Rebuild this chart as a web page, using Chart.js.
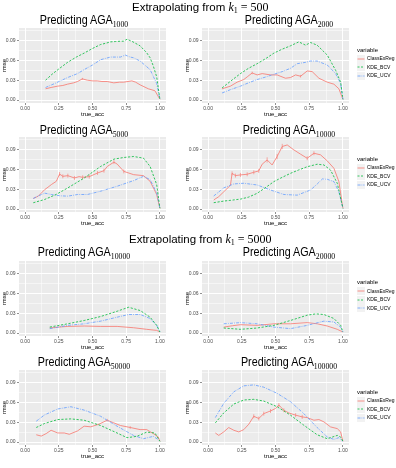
<!DOCTYPE html>
<html><head><meta charset="utf-8">
<script src="https://cdn.jsdelivr.net/npm/chart.js@4.4.0/dist/chart.umd.min.js"></script>
<style>
body{margin:0;width:396px;height:468px;background:#fff;position:relative;overflow:hidden;font-family:"Liberation Sans",Arial,sans-serif;}
canvas{position:absolute;}
.h{position:absolute;font-size:11.5px;white-space:nowrap;color:#000;line-height:1;}
.m{font-family:"Liberation Serif","DejaVu Serif",serif;font-size:12px;}
.m i{font-style:italic;}
.m sub{font-size:8px;vertical-align:-2px;}
.t{position:absolute;font-size:12.5px;white-space:nowrap;text-align:center;width:200px;line-height:1;color:#000;transform:scaleX(0.86);transform-origin:50% 50%;}
.t span.s{font-family:"Liberation Serif",serif;font-size:9px;position:relative;top:3px;}
.lg{position:absolute;left:357px;font-size:5px;color:#000;line-height:1;}
.lg .v{font-size:6px;position:absolute;left:0;white-space:nowrap;}
.lg .e{position:absolute;left:0;white-space:nowrap;height:8px;}
.lg svg{position:absolute;left:0;top:0;}
.lg .e span{position:absolute;left:10px;top:1.5px;}
</style>
</head><body>
<script>
// ---------- tick labels ----------
const yMajor = [0, 0.03, 0.06, 0.09];
const yMinor = [0.015, 0.045, 0.075, 0.105];
const yLabels = ['0.00', '0.03', '0.06', '0.09'];
const xMajor = [0, 0.25, 0.5, 0.75, 1];
const xMinor = [0.125, 0.375, 0.625, 0.875];
const xLabels = ['0.00', '0.25', '0.50', '0.75', '1.00'];
const seriesNames = ['ClassExReg', 'KDE_BCV', 'KDE_UCV'];
const panelTitles = ['1000', '2000', '5000', '10000', '10000', '20000', '50000', '100000'];
const headings = ['500', '5000'];

// ---------- Extrapolating from k1 = 500 ----------
const p1Red = [[0.152,0.017],[0.193,0.019],[0.242,0.021],[0.28,0.022],[0.315,0.024],[0.36,0.026],[0.389,0.028],[0.425,0.032],[0.462,0.030],[0.5,0.029],[0.535,0.029],[0.57,0.028],[0.609,0.028],[0.658,0.026],[0.70,0.027],[0.731,0.027],[0.792,0.029],[0.82,0.027],[0.853,0.023],[0.914,0.017],[0.963,0.014],[1.0,0.001]];
const p1Bcv = [[0.152,0.030],[0.2,0.039],[0.25,0.047],[0.315,0.057],[0.38,0.065],[0.438,0.071],[0.5,0.078],[0.56,0.084],[0.6,0.086],[0.633,0.088],[0.67,0.0885],[0.707,0.089],[0.73,0.089],[0.756,0.092],[0.8,0.088],[0.853,0.082],[0.9,0.072],[0.927,0.064],[0.95,0.052],[0.976,0.035],[1.0,0.001]];
const p1Ucv = [[0.152,0.019],[0.22,0.025],[0.315,0.034],[0.389,0.040],[0.438,0.046],[0.5,0.053],[0.56,0.061],[0.633,0.065],[0.707,0.065],[0.743,0.068],[0.78,0.065],[0.804,0.064],[0.853,0.059],[0.927,0.046],[0.976,0.025],[1.0,0.001]];
const p1Err = [[0.425,0.032,0.0015]];

const p2Red = [[0.104,0.017],[0.166,0.021],[0.215,0.027],[0.265,0.031],[0.290,0.035],[0.327,0.041],[0.364,0.038],[0.401,0.040],[0.463,0.038],[0.512,0.038],[0.574,0.033],[0.611,0.034],[0.649,0.038],[0.686,0.036],[0.735,0.044],[0.772,0.043],[0.822,0.033],[0.884,0.027],[0.933,0.024],[0.970,0.017],[1.0,0.001]];
const p2Bcv = [[0.104,0.0183],[0.17,0.029],[0.240,0.040],[0.3,0.048],[0.364,0.055],[0.43,0.063],[0.488,0.071],[0.55,0.077],[0.611,0.082],[0.673,0.088],[0.723,0.083],[0.760,0.087],[0.809,0.083],[0.884,0.068],[0.946,0.045],[0.983,0.027],[1.0,0.001]];
const p2Ucv = [[0.104,0.0107],[0.17,0.016],[0.240,0.021],[0.3,0.026],[0.364,0.031],[0.43,0.035],[0.488,0.039],[0.55,0.043],[0.611,0.048],[0.661,0.055],[0.723,0.057],[0.760,0.059],[0.809,0.059],[0.884,0.053],[0.946,0.040],[0.983,0.025],[1.0,0.001]];
const p2Err = [[0.327,0.041,0.002],[0.686,0.036,0.002]];

const p3Red = [[0.061,0.016],[0.098,0.0195],[0.12,0.024],[0.146,0.0295],[0.17,0.033],[0.195,0.037],[0.232,0.042],[0.256,0.053],[0.280,0.0495],[0.317,0.0505],[0.366,0.047],[0.40,0.049],[0.427,0.048],[0.476,0.049],[0.537,0.0545],[0.585,0.058],[0.610,0.0645],[0.659,0.071],[0.683,0.068],[0.732,0.057],[0.805,0.052],[0.878,0.0505],[0.927,0.042],[0.976,0.022],[1.0,0.001]];
const p3Bcv = [[0.061,0.0095],[0.146,0.0145],[0.23,0.022],[0.317,0.032],[0.439,0.047],[0.561,0.0645],[0.659,0.0755],[0.732,0.078],[0.805,0.0795],[0.878,0.077],[0.927,0.0645],[0.976,0.037],[1.0,0.001]];
const p3Ucv = [[0.061,0.016],[0.1,0.020],[0.146,0.024],[0.195,0.022],[0.26,0.020],[0.317,0.0195],[0.390,0.022],[0.463,0.022],[0.561,0.027],[0.683,0.0345],[0.805,0.043],[0.878,0.0495],[0.927,0.0445],[0.976,0.0245],[1.0,0.001]];
const p3Err = [[0.256,0.053,0.003],[0.280,0.0495,0.003],[0.317,0.0505,0.003],[0.366,0.047,0.003],[0.427,0.048,0.003],[0.476,0.049,0.003],[0.537,0.0545,0.003],[0.585,0.058,0.003],[0.659,0.071,0.003],[0.732,0.057,0.003]];

const p4Red = [[0.042,0.0137],[0.079,0.0187],[0.116,0.026],[0.166,0.036],[0.178,0.054],[0.203,0.0506],[0.240,0.0516],[0.290,0.0526],[0.339,0.0556],[0.376,0.0577],[0.401,0.0678],[0.438,0.0743],[0.475,0.0667],[0.512,0.0794],[0.550,0.0946],[0.587,0.097],[0.636,0.0895],[0.686,0.083],[0.735,0.0768],[0.785,0.0844],[0.834,0.082],[0.884,0.0728],[0.933,0.0617],[0.970,0.0415],[1.0,0.001]];
const p4Bcv = [[0.042,0.0096],[0.116,0.012],[0.240,0.015],[0.3,0.018],[0.364,0.0238],[0.43,0.033],[0.488,0.0415],[0.55,0.048],[0.611,0.054],[0.67,0.059],[0.735,0.064],[0.809,0.0678],[0.859,0.0667],[0.908,0.059],[0.958,0.039],[1.0,0.001]];
const p4Ucv = [[0.042,0.0197],[0.08,0.026],[0.116,0.032],[0.191,0.038],[0.265,0.039],[0.364,0.0364],[0.463,0.0288],[0.562,0.022],[0.661,0.021],[0.760,0.0288],[0.81,0.038],[0.847,0.0455],[0.884,0.045],[0.933,0.0415],[0.970,0.026],[1.0,0.001]];
const p4Err = [[0.178,0.054,0.003],[0.203,0.0506,0.003],[0.240,0.0516,0.003],[0.290,0.0526,0.003],[0.339,0.0556,0.003],[0.376,0.0577,0.003],[0.438,0.0743,0.004],[0.512,0.0794,0.004],[0.550,0.0946,0.004],[0.735,0.0768,0.003],[0.785,0.0844,0.003]];

// ---------- Extrapolating from k1 = 5000 ----------
const p5Red = [[0.183,0.0076],[0.25,0.009],[0.317,0.010],[0.439,0.0106],[0.561,0.010],[0.683,0.010],[0.805,0.008],[0.902,0.0056],[0.976,0.004],[1.0,0.0015]];
const p5Bcv = [[0.183,0.009],[0.317,0.014],[0.439,0.019],[0.561,0.025],[0.683,0.033],[0.768,0.039],[0.854,0.034],[0.927,0.024],[0.976,0.0116],[1.0,0.0015]];
const p5Ucv = [[0.183,0.0066],[0.317,0.0116],[0.439,0.014],[0.561,0.018],[0.683,0.024],[0.768,0.028],[0.854,0.028],[0.927,0.022],[0.976,0.0116],[1.0,0.0015]];
const p5Err = [];

const p6Red = [[0.116,0.009],[0.18,0.011],[0.240,0.0126],[0.364,0.0116],[0.488,0.014],[0.611,0.014],[0.735,0.0157],[0.809,0.014],[0.884,0.0106],[0.958,0.0056],[1.0,0.0015]];
const p6Bcv = [[0.116,0.0076],[0.240,0.0056],[0.364,0.0076],[0.488,0.0116],[0.611,0.019],[0.735,0.027],[0.80,0.029],[0.859,0.028],[0.933,0.022],[0.983,0.0116],[1.0,0.0015]];
const p6Ucv = [[0.116,0.014],[0.240,0.0157],[0.364,0.014],[0.488,0.009],[0.611,0.0066],[0.735,0.0116],[0.859,0.018],[0.933,0.0167],[0.983,0.009],[1.0,0.0015]];
const p6Err = [];

const p7Red = [[0.083,0.011],[0.120,0.009],[0.156,0.0127],[0.193,0.0178],[0.242,0.0137],[0.291,0.0137],[0.328,0.0117],[0.389,0.0168],[0.438,0.024],[0.487,0.023],[0.548,0.027],[0.609,0.033],[0.658,0.029],[0.707,0.025],[0.780,0.022],[0.853,0.0188],[0.902,0.0188],[0.951,0.0127],[0.988,0.0076],[1.0,0.001]];
const p7Bcv = [[0.083,0.022],[0.144,0.028],[0.242,0.034],[0.340,0.035],[0.438,0.033],[0.560,0.025],[0.682,0.0137],[0.756,0.0066],[0.829,0.0086],[0.902,0.015],[0.963,0.0137],[1.0,0.001]];
const p7Ucv = [[0.083,0.0315],[0.144,0.041],[0.242,0.050],[0.340,0.0534],[0.438,0.0483],[0.560,0.039],[0.682,0.024],[0.804,0.010],[0.878,0.005],[0.951,0.0086],[0.988,0.0036],[1.0,0.001]];
const p7Err = [[0.609,0.033,0.002],[0.780,0.022,0.002]];

const p8Red = [[0.054,0.0137],[0.079,0.010],[0.116,0.0153],[0.153,0.0219],[0.191,0.0178],[0.228,0.0153],[0.265,0.0188],[0.302,0.027],[0.339,0.039],[0.376,0.0356],[0.413,0.043],[0.463,0.047],[0.500,0.0508],[0.525,0.056],[0.562,0.048],[0.599,0.044],[0.649,0.0407],[0.698,0.038],[0.735,0.037],[0.785,0.033],[0.822,0.034],[0.859,0.0305],[0.908,0.0229],[0.958,0.0203],[0.983,0.0153],[1.0,0.001]];
const p8Bcv = [[0.054,0.029],[0.116,0.044],[0.191,0.0575],[0.265,0.0636],[0.339,0.0646],[0.413,0.062],[0.512,0.0534],[0.611,0.0407],[0.710,0.0254],[0.809,0.011],[0.884,0.005],[0.958,0.010],[0.983,0.0076],[1.0,0.001]];
const p8Ucv = [[0.054,0.037],[0.116,0.0585],[0.191,0.076],[0.265,0.085],[0.339,0.0865],[0.413,0.083],[0.512,0.0737],[0.611,0.061],[0.710,0.043],[0.809,0.0219],[0.884,0.0076],[0.933,0.004],[0.970,0.0066],[1.0,0.001]];
const p8Err = [[0.339,0.039,0.003],[0.376,0.0356,0.003],[0.413,0.043,0.003],[0.463,0.047,0.003],[0.525,0.056,0.003],[0.562,0.048,0.003],[0.649,0.0407,0.003],[0.698,0.038,0.003]];

// ---------- assembly ----------
const panels = [
  {red:p1Red,bcv:p1Bcv,ucv:p1Ucv,err:p1Err},
  {red:p2Red,bcv:p2Bcv,ucv:p2Ucv,err:p2Err},
  {red:p3Red,bcv:p3Bcv,ucv:p3Ucv,err:p3Err},
  {red:p4Red,bcv:p4Bcv,ucv:p4Ucv,err:p4Err},
  {red:p5Red,bcv:p5Bcv,ucv:p5Ucv,err:p5Err},
  {red:p6Red,bcv:p6Bcv,ucv:p6Ucv,err:p6Err},
  {red:p7Red,bcv:p7Bcv,ucv:p7Ucv,err:p7Err},
  {red:p8Red,bcv:p8Bcv,ucv:p8Ucv,err:p8Err}
];
const colLeft = [19, 202];
const rowTop = [28, 137, 260.5, 370];
const titleOff = [7.5, 6, 7.5, 7.5];
const PW = 147, PH = 75;
const RED = '#F8766D', GREEN = '#00BA38', BLUE = '#619CFF';

Chart.defaults.font.family = '"Liberation Sans", Arial, sans-serif';
Chart.defaults.color = '#4D4D4D';

const bgPlugin = {
  id: 'bg',
  beforeDraw(chart) {
    const a = chart.chartArea, c = chart.ctx;
    c.save(); c.fillStyle = '#EBEBEB'; c.fillRect(a.left, a.top, a.right - a.left, a.bottom - a.top); c.restore();
  }
};

function isMajor(v, arr) { return arr.some(m => Math.abs(m - v) < 1e-9); }
function labelFor(v, majors, labels) {
  const i = majors.findIndex(m => Math.abs(m - v) < 1e-9);
  return i >= 0 ? labels[i] : '';
}
function pts(arr) { return arr.map(p => ({x: p[0], y: p[1]})); }
function errPts(arr) {
  const out = [];
  arr.forEach(e => { out.push({x:e[0], y:e[1]-e[2]}); out.push({x:e[0], y:e[1]+e[2]}); out.push({x:e[0], y:null}); });
  return out;
}

panels.forEach((p, i) => {
  const col = i % 2, row = Math.floor(i / 2);
  const left = colLeft[col], top = rowTop[row];
  const cv = document.createElement('canvas');
  cv.width = 19 + PW + 5; cv.height = 5 + PH + 15;
  cv.style.left = (left - 19) + 'px'; cv.style.top = (top - 5) + 'px';
  cv.style.width = cv.width + 'px'; cv.style.height = cv.height + 'px';
  document.body.appendChild(cv);
  new Chart(cv, {
    type: 'line',
    data: {
      datasets: [
        {label: seriesNames[1], data: pts(p.bcv), borderColor: GREEN, borderWidth: 0.8, borderDash: [2.2, 1.6], pointRadius: 0, fill: false},
        {label: seriesNames[2], data: pts(p.ucv), borderColor: BLUE, borderWidth: 0.8, borderDash: [3, 1.2, 0.8, 1.2], pointRadius: 0, fill: false},
        {label: seriesNames[0], data: pts(p.red), borderColor: RED, borderWidth: 0.8, pointRadius: 0, fill: false},
        {label: 'err', data: errPts(p.err), borderColor: RED, borderWidth: 0.6, pointRadius: 0, fill: false, spanGaps: false}
      ]
    },
    options: {
      responsive: false, animation: false, devicePixelRatio: 1,
      layout: {padding: {top: 5, right: 5, left: 0, bottom: 0}},
      plugins: {legend: {display: false}, tooltip: {enabled: false}, title: {display: false}},
      scales: {
        x: {
          type: 'linear', min: -0.045, max: 1.045,
          afterBuildTicks: s => { s.ticks = xMajor.concat(xMinor).sort((a,b)=>a-b).map(v => ({value: v})); },
          afterFit: s => { s.height = 15; },
          ticks: {autoSkip: false, maxRotation: 0, padding: 0.5, font: {size: 5}, color: '#4D4D4D',
                  callback: v => labelFor(v, xMajor, xLabels)},
          grid: {color: '#FFFFFF', lineWidth: c => isMajor(c.tick.value, xMajor) ? 1 : 0.5,
                 tickColor: c => isMajor(c.tick.value, xMajor) ? '#444' : 'rgba(0,0,0,0)', tickLength: 2, tickWidth: 0.6},
          border: {display: false},
          title: {display: true, text: 'true_acc', font: {size: 6}, color: '#000', padding: {top: 0, bottom: 0.5}}
        },
        y: {
          type: 'linear', min: -0.0045, max: 0.109,
          afterBuildTicks: s => { s.ticks = yMajor.concat(yMinor).sort((a,b)=>a-b).map(v => ({value: v})); },
          afterFit: s => { s.width = 19; },
          ticks: {autoSkip: false, padding: 1.5, font: {size: 5}, color: '#4D4D4D',
                  callback: v => labelFor(v, yMajor, yLabels)},
          grid: {color: '#FFFFFF', lineWidth: c => isMajor(c.tick.value, yMajor) ? 1 : 0.5,
                 tickColor: c => isMajor(c.tick.value, yMajor) ? '#444' : 'rgba(0,0,0,0)', tickLength: 2, tickWidth: 0.6},
          border: {display: false},
          title: {display: true, text: 'rmse', font: {size: 6}, color: '#000', padding: {top: 0.5, bottom: 0}}
        }
      }
    },
    plugins: [bgPlugin]
  });

  // panel title
  const t = document.createElement('div');
  t.className = 't';
  const cx = col === 0 ? 84 : 289;
  t.style.left = (cx - 100) + 'px';
  t.style.top = (top - titleOff[row] - 7) + 'px';
  t.innerHTML = 'Predicting AGA<span class="s">' + panelTitles[i] + '</span>';
  document.body.appendChild(t);

  // legend (right column only)
  if (col === 1) {
    const lg = document.createElement('div');
    lg.className = 'lg';
    lg.style.top = (top + 22) + 'px';
    const dashes = ['', '2,1.5', '3,1,0.8,1'];
    const colors = [RED, GREEN, BLUE];
    let html = '<div class="v" style="top:-3.5px">variable</div>';
    for (let k = 0; k < 3; k++) {
      html += '<div class="e" style="top:' + (4.5 + k * 8.5) + 'px">' +
        '<svg width="8" height="8"><rect x="0" y="0" width="8" height="8" fill="#F2F2F2"/>' +
        '<line x1="0.5" y1="4" x2="7.5" y2="4" stroke="' + colors[k] + '" stroke-width="0.8"' +
        (dashes[k] ? ' stroke-dasharray="' + dashes[k] + '"' : '') + '/></svg>' +
        '<span>' + seriesNames[k] + '</span></div>';
    }
    lg.innerHTML = html;
    document.body.appendChild(lg);
  }
});

// section headings
[[132, 1], [129, 233]].forEach((h, j) => {
  const d = document.createElement('div');
  d.className = 'h';
  d.style.left = h[0] + 'px'; d.style.top = h[1] + 'px';
  d.innerHTML = 'Extrapolating from <span class="m"><i>k</i><sub>1</sub> = ' + headings[j] + '</span>';
  document.body.appendChild(d);
});
</script>
</body></html>
